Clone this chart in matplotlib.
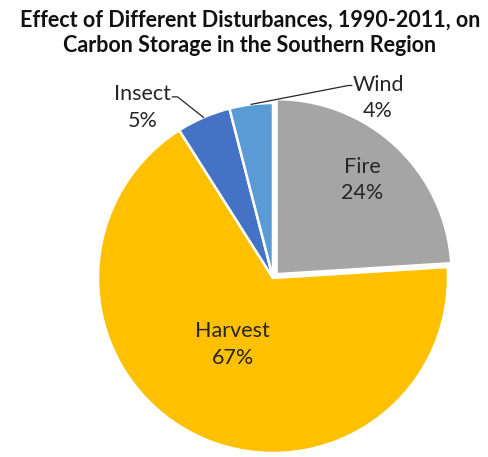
import numpy as np
import matplotlib
matplotlib.use("Agg")
import matplotlib.pyplot as plt

# data
categories = ["Fire", "Harvest", "Insect", "Wind"]
shares = [24, 67, 5, 4]
colors = ["#A5A5A5", "#FFC000", "#4472C4", "#5B9BD5"]

plt.rcParams['font.family'] = ['Lato', 'DejaVu Sans']

fig = plt.figure(figsize=(4.89, 4.57), dpi=100)
fig.text(0.511, 0.928, "Effect of Different Disturbances, 1990-2011, on\nCarbon Storage in the Southern Region",
         ha="center", va="center", fontsize=15.5, fontweight="bold", linespacing=1.3, color="#111111")

# pie centre at about (273, 278) px, radius 175 px
cx, cy, r = 273, 278, 175
ax = fig.add_axes([(cx - r) / 489, (457 - cy - r) / 457, 2 * r / 489, 2 * r / 457])

wedges, _ = ax.pie(shares, colors=colors, startangle=90, counterclock=False,
                   explode=[0.03, 0, 0, 0],
                   wedgeprops=dict(edgecolor="white", linewidth=1.8))
ax.set_xlim(-1, 1)
ax.set_ylim(-1, 1)
ax.set_aspect("equal")
ax.axis("off")

lab_kw = dict(ha="center", va="center", fontsize=15.5, linespacing=1.4, color="#262626")
ax.text(0.51, 0.56, f"{categories[0]}\n{shares[0]}%", **lab_kw)
ax.text(-0.23, -0.38, f"{categories[1]}\n{shares[1]}%", **lab_kw)
ax.text(-0.745, 0.975, f"{categories[2]}\n{shares[2]}%", **lab_kw)
ax.text(0.60, 1.03, f"{categories[3]}\n{shares[3]}%", **lab_kw)


def edge_point(w):
    a = np.deg2rad((w.theta1 + w.theta2) / 2)
    return np.cos(a), np.sin(a)


# leader lines
x0, y0 = edge_point(wedges[2])
ax.plot([x0, -0.545, -0.575], [y0, 1.035, 1.035], color="#262626", lw=0.9, clip_on=False)
x0, y0 = edge_point(wedges[3])
ax.plot([x0, 0.43, 0.45], [y0, 1.10, 1.10], color="#262626", lw=0.9, clip_on=False)

fig.savefig("out.png", dpi=100)
